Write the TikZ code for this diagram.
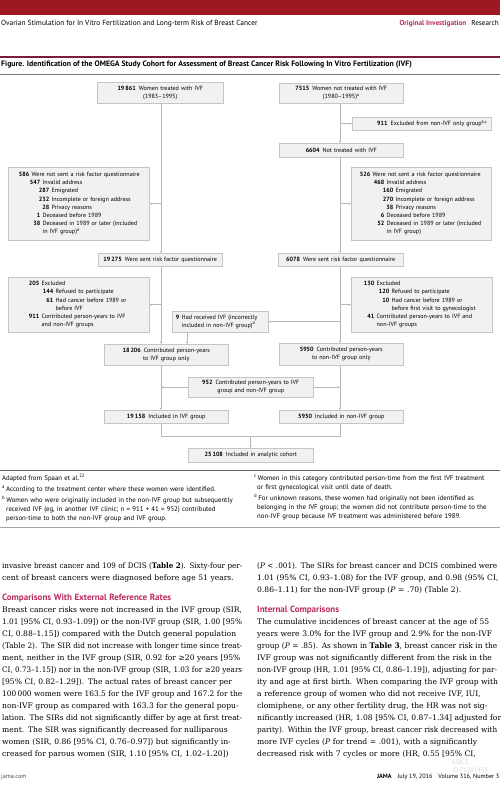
\documentclass[tikz,border=0pt]{standalone}
\usepackage{fontspec}
\usepackage{graphicx}
\setmainfont{DejaVu Serif}
\setsansfont{PT Sans}
\usetikzlibrary{arrows.meta,positioning}
\definecolor{jamared}{RGB}{158,24,34}
\definecolor{jamapink}{RGB}{186,44,98}
\definecolor{boxfill}{RGB}{240,241,241}
\definecolor{boxdraw}{RGB}{196,198,198}
\definecolor{linkgray}{RGB}{182,184,184}
% number set flush right at an indent, then its text
\newcommand\boxline[3]{\hspace*{#1pt}\llap{\textbf{#2}}\hspace{2.4pt}#3}
\newcommand\boxcont[2]{\hspace*{\dimexpr#1pt+2.4pt\relax}#2}
% one justified line of the article text
\newsavebox\linebox
\newcommand\jline[1]{\sbox\linebox{#1}%
    \ifdim\wd\linebox>244pt\resizebox{240pt}{\height}{\usebox\linebox}%
    \else\makebox[240pt][s]{#1}\fi}

\begin{document}
\begin{tikzpicture}
    [x=1pt,y=-1pt,
    box/.style={draw=boxdraw,fill=boxfill,line width=0.5pt,inner xsep=0pt,inner ysep=0pt,
        anchor=north west,font=\sffamily\fontsize{6.1}{8.2}\selectfont},
    link/.style={draw=linkgray,line width=0.7pt,-{Stealth[length=2.4pt,width=2.2pt]}},
    plain link/.style={draw=linkgray,line width=0.7pt},
    body/.style={anchor=north west,inner sep=0pt,align=left,font=\fontsize{7.6}{12}\selectfont},
    note/.style={anchor=north west,inner sep=0pt,align=left,font=\sffamily\fontsize{6.8}{9}\selectfont}]
    \useasboundingbox (0,0) rectangle (500,786);
    \fill[white] (0,0) rectangle (500,786);
    % running head
    \fill[jamared] (0,0) rectangle (500,15);
    \node[anchor=west,inner sep=0pt,font=\sffamily\fontsize{7.4}{8}\selectfont] (runhead) at (1,24)
        {Ovarian Stimulation for In Vitro Fertilization and Long-term Risk of Breast Cancer};
    \node[anchor=east,inner sep=0pt,font=\sffamily\fontsize{7.2}{8}\selectfont] (section) at (499,24)
        {\textcolor{jamapink}{\textbf{Original Investigation}}\hspace{5pt}Research};
    \draw[jamapink!65!black,line width=1.2pt] (0,57) -- (500,57);
    \node[anchor=west,inner sep=0pt,font=\sffamily\bfseries\fontsize{7.8}{9}\selectfont] (figtitle) at (1,65)
        {Figure. Identification of the OMEGA Study Cohort for Assessment of Breast Cancer Risk Following In Vitro Fertilization (IVF)};
    \draw[black!55,line width=0.8pt] (0,74) -- (500,74);
    % the flow chart
    \coordinate (ivfline) at (161,0);
    \coordinate (nonline) at (340,0);
    \node[box,text width=126pt,minimum height=21pt,align=center] (ivf) at (97,82)
        {\textbf{19\,861}\hspace{3pt}Women treated with IVF\\(1983--1995)};
    \node[box,text width=124pt,minimum height=20pt,align=center] (nonivf) at (279,83)
        {\textbf{7515}\hspace{3pt}Women not treated with IVF\\(1980--1995)\textsuperscript{a}};
    \node[box,text width=131pt,inner xsep=4pt,minimum height=13pt,align=right] (exclonly) at (352,117)
        {\textbf{911}\hspace{3pt}Excluded from non-IVF only group\textsuperscript{b,c}};
    \node[box,text width=124pt,minimum height=14pt,align=center] (notivf) at (279,143)
        {\textbf{6604}\hspace{3pt}Not treated with IVF};
    \node[box,text width=141pt,minimum height=73pt,align=left] (nosentivf) at (8,167)
        {\boxline{21}{586}{Were not sent a risk factor questionnaire}\\
        \boxline{32}{547}{Invalid address}\\
        \boxline{41}{287}{Emigrated}\\
        \boxline{41}{232}{Incomplete or foreign address}\\
        \boxline{41}{28}{Privacy reasons}\\
        \boxline{32}{1}{Deceased before 1989}\\
        \boxline{32}{38}{Deceased in 1989 or later (included}\\
        \boxcont{32}{in IVF group)\textsuperscript{d}}};
    \node[box,text width=140pt,minimum height=73pt,align=left] (nosentnon) at (351,167)
        {\boxline{19}{526}{Were not sent a risk factor questionnaire}\\
        \boxline{33}{468}{Invalid address}\\
        \boxline{42}{160}{Emigrated}\\
        \boxline{42}{270}{Incomplete or foreign address}\\
        \boxline{42}{38}{Privacy reasons}\\
        \boxline{33}{6}{Deceased before 1989}\\
        \boxline{33}{52}{Deceased in 1989 or later (included}\\
        \boxcont{33}{in IVF group)}};
    \node[box,text width=124pt,minimum height=13pt,align=center] (sentivf) at (98,253)
        {\textbf{19\,275}\hspace{3pt}Were sent risk factor questionnaire};
    \node[box,text width=125pt,minimum height=13pt,align=center] (sentnon) at (278,253)
        {\textbf{6078}\hspace{3pt}Were sent risk factor questionnaire};
    \node[box,text width=141pt,minimum height=55pt,align=left] (exclivf) at (8,277)
        {\boxline{31}{205}{Excluded}\\
        \boxline{45}{144}{Refused to participate}\\
        \boxline{45}{61}{Had cancer before 1989 or}\\
        \boxcont{45}{before IVF}\\
        \boxline{31}{911}{Contributed person-years to IVF}\\
        \boxcont{31}{and non-IVF groups}};
    \node[box,text width=141pt,minimum height=55pt,align=left] (exclnon) at (351,277)
        {\boxline{23}{130}{Excluded}\\
        \boxline{38}{120}{Refused to participate}\\
        \boxline{38}{10}{Had cancer before 1989 or}\\
        \boxcont{38}{before first visit to gynecologist}\\
        \boxline{23}{41}{Contributed person-years to IVF and}\\
        \boxcont{23}{non-IVF groups}};
    \node[box,text width=96pt,minimum height=21pt,align=left] (incorrect) at (172,311)
        {\boxline{7}{9}{Had received IVF (incorrectly}\\
        \boxcont{7}{included in non-IVF group)\textsuperscript{d}}};
    \node[box,text width=124pt,minimum height=21pt,align=center] (contribivf) at (104,344)
        {\textbf{18\,206}\hspace{3pt}Contributed person-years\\to IVF group only};
    \node[box,text width=124pt,minimum height=22pt,align=center] (contribnon) at (279,343)
        {\textbf{5950}\hspace{3pt}Contributed person-years\\to non-IVF group only};
    \node[box,text width=125pt,minimum height=20pt,align=center] (both) at (188,377)
        {\textbf{952}\hspace{3pt}Contributed person-years to IVF\\group and non-IVF group};
    \node[box,text width=124pt,minimum height=13pt,align=center] (inclivf) at (104,410)
        {\textbf{19\,158}\hspace{3pt}Included in IVF group};
    \node[box,text width=124pt,minimum height=13pt,align=center] (inclnon) at (279,410)
        {\textbf{5950}\hspace{3pt}Included in non-IVF group};
    \node[box,text width=125pt,minimum height=14pt,align=center] (cohort) at (188,448)
        {\textbf{25\,108}\hspace{3pt}Included in analytic cohort};
    % connectors, IVF side
    \draw[link] (ivfline |- ivf.south) -- (ivfline |- sentivf.north);
    \draw[link] (ivfline |- nosentivf.east) -- (nosentivf.east);
    \draw[link] (ivfline |- sentivf.south) -- (ivfline |- contribivf.north);
    \draw[link] (ivfline |- exclivf.east) -- (exclivf.east);
    \draw[link] ([xshift=15pt]incorrect.south west) -- ([xshift=15pt]incorrect.south west |- contribivf.north);
    \draw[link] (ivfline |- contribivf.south) -- (ivfline |- inclivf.north);
    \draw[link] (both.west) -- (ivfline |- both.west);
    % connectors, non-IVF side
    \draw[link] (nonline |- nonivf.south) -- (nonline |- notivf.north);
    \draw[link] (nonline |- exclonly.west) -- (exclonly.west);
    \draw[link] (nonline |- notivf.south) -- (nonline |- sentnon.north);
    \draw[link] (nonline |- nosentnon.west) -- (nosentnon.west);
    \draw[link] (nonline |- sentnon.south) -- (nonline |- contribnon.north);
    \draw[link] (nonline |- exclnon.west) -- (exclnon.west);
    \draw[link] (nonline |- incorrect.east) -- (incorrect.east);
    \draw[link] (nonline |- contribnon.south) -- (nonline |- inclnon.north);
    \draw[link] (both.east) -- (nonline |- both.east);
    % both groups join the cohort
    \draw[link] (ivfline |- inclivf.south) |- ([yshift=12pt]cohort.north) -- (cohort.north);
    \draw[plain link] (nonline |- inclnon.south) |- ([yshift=12pt]cohort.north);
    % footnotes
    \draw[black!60,line width=0.9pt] (0,470) -- (500,470);
    \node[note,text width=246pt] (leftnotes) at (2,474)
        {\strut Adapted from Spaan et al.\textsuperscript{22}\\[2pt]
        \textsuperscript{a}\,According to the treatment center where these women were identified.\\[2pt]
        \textsuperscript{b}\,Women who were originally included in the non-IVF group but subsequently\\
        \hspace*{4pt}received IVF (eg, in another IVF clinic; n = 911 + 41 = 952) contributed\\
        \hspace*{4pt}person-time to both the non-IVF group and IVF group.};
    \node[note,text width=248pt] (rightnotes) at (254,474)
        {\strut\textsuperscript{c}\,Women in this category contributed person-time from the first IVF treatment\\
        \hspace*{3pt}or first gynecological visit until date of death.\\[2pt]
        \textsuperscript{d}\,For unknown reasons, these women had originally not been identified as\\
        \hspace*{3pt}belonging in the IVF group; the women did not contribute person-time to the\\
        \hspace*{3pt}non-IVF group because IVF treatment was administered before 1989.};
    \draw[black!35,line width=0.8pt] (0,527) -- (500,527);
    % article text, two columns
    \node[body,text width=240pt] (leftcol) at (2,559.6)
        {\strut\jline{invasive breast cancer and 109 of DCIS (\textbf{Table 2}). Sixty-four per-}\\
        cent of breast cancers were diagnosed before age 51 years.\\[8pt]
        {\sffamily\bfseries\fontsize{9}{12}\selectfont\color{jamapink}Comparisons With External Reference Rates}\\
        \jline{Breast cancer risks were not increased in the IVF group (SIR,}\\
        \jline{1.01 [95\% CI, 0.93--1.09]) or the non-IVF group (SIR, 1.00 [95\%}\\
        \jline{CI, 0.88--1.15]) compared with the Dutch general population}\\
        \jline{(Table 2). The SIR did not increase with longer time since treat-}\\
        \jline{ment, neither in the IVF group (SIR, 0.92 for ≥20 years [95\%}\\
        \jline{CI, 0.73--1.15]) nor in the non-IVF group (SIR, 1.03 for ≥20 years}\\
        \jline{[95\% CI, 0.82--1.29]). The actual rates of breast cancer per}\\
        \jline{100\,000 women were 163.5 for the IVF group and 167.2 for the}\\
        \jline{non-IVF group as compared with 163.3 for the general popu-}\\
        \jline{lation. The SIRs did not significantly differ by age at first treat-}\\
        \jline{ment. The SIR was significantly decreased for nulliparous}\\
        \jline{women (SIR, 0.86 [95\% CI, 0.76--0.97]) but significantly in-}\\
        \jline{creased for parous women (SIR, 1.10 [95\% CI, 1.02--1.20])}};
    \node[body,text width=240pt] (rightcol) at (257,559.6)
        {\strut\jline{(\textit{P} < .001). The SIRs for breast cancer and DCIS combined were}\\
        \jline{1.01 (95\% CI, 0.93--1.08) for the IVF group, and 0.98 (95\% CI,}\\
        0.86--1.11) for the non-IVF group (\textit{P} = .70) (Table 2).\\[8pt]
        {\sffamily\bfseries\fontsize{9}{12}\selectfont\color{jamapink}Internal Comparisons}\\
        \jline{The cumulative incidences of breast cancer at the age of 55}\\
        \jline{years were 3.0\% for the IVF group and 2.9\% for the non-IVF}\\
        \jline{group (\textit{P} = .85). As shown in \textbf{Table 3}, breast cancer risk in the}\\
        \jline{IVF group was not significantly different from the risk in the}\\
        \jline{non-IVF group (HR, 1.01 [95\% CI, 0.86--1.19]), adjusting for par-}\\
        \jline{ity and age at first birth. When comparing the IVF group with}\\
        \jline{a reference group of women who did not receive IVF, IUI,}\\
        \jline{clomiphene, or any other fertility drug, the HR was not sig-}\\
        \jline{nificantly increased (HR, 1.08 [95\% CI, 0.87--1.34] adjusted for}\\
        \jline{parity). Within the IVF group, breast cancer risk decreased with}\\
        \jline{more IVF cycles (\textit{P} for trend = .001), with a significantly}\\
        \jline{decreased risk with 7 cycles or more (HR, 0.55 [95\% CI,}};
    % page foot
    \node[anchor=west,inner sep=0pt,text=black!70,font=\sffamily\fontsize{6.2}{7}\selectfont] (site) at (1,777) {jama.com};
    \node[anchor=east,inner sep=0pt,font=\sffamily\fontsize{6.2}{7}\selectfont] (issue) at (499.5,777)
        {\textbf{JAMA}\hspace{6pt}July 19, 2016\hspace{6pt}Volume 316, Number 3};
    \node[anchor=north west,inner sep=0pt,align=left,text=black!15,font=\sffamily\fontsize{6.5}{8}\selectfont] (wmark) at (452,759.5)
        {SIBCS\\ID:71281455};
\end{tikzpicture}
\end{document}
